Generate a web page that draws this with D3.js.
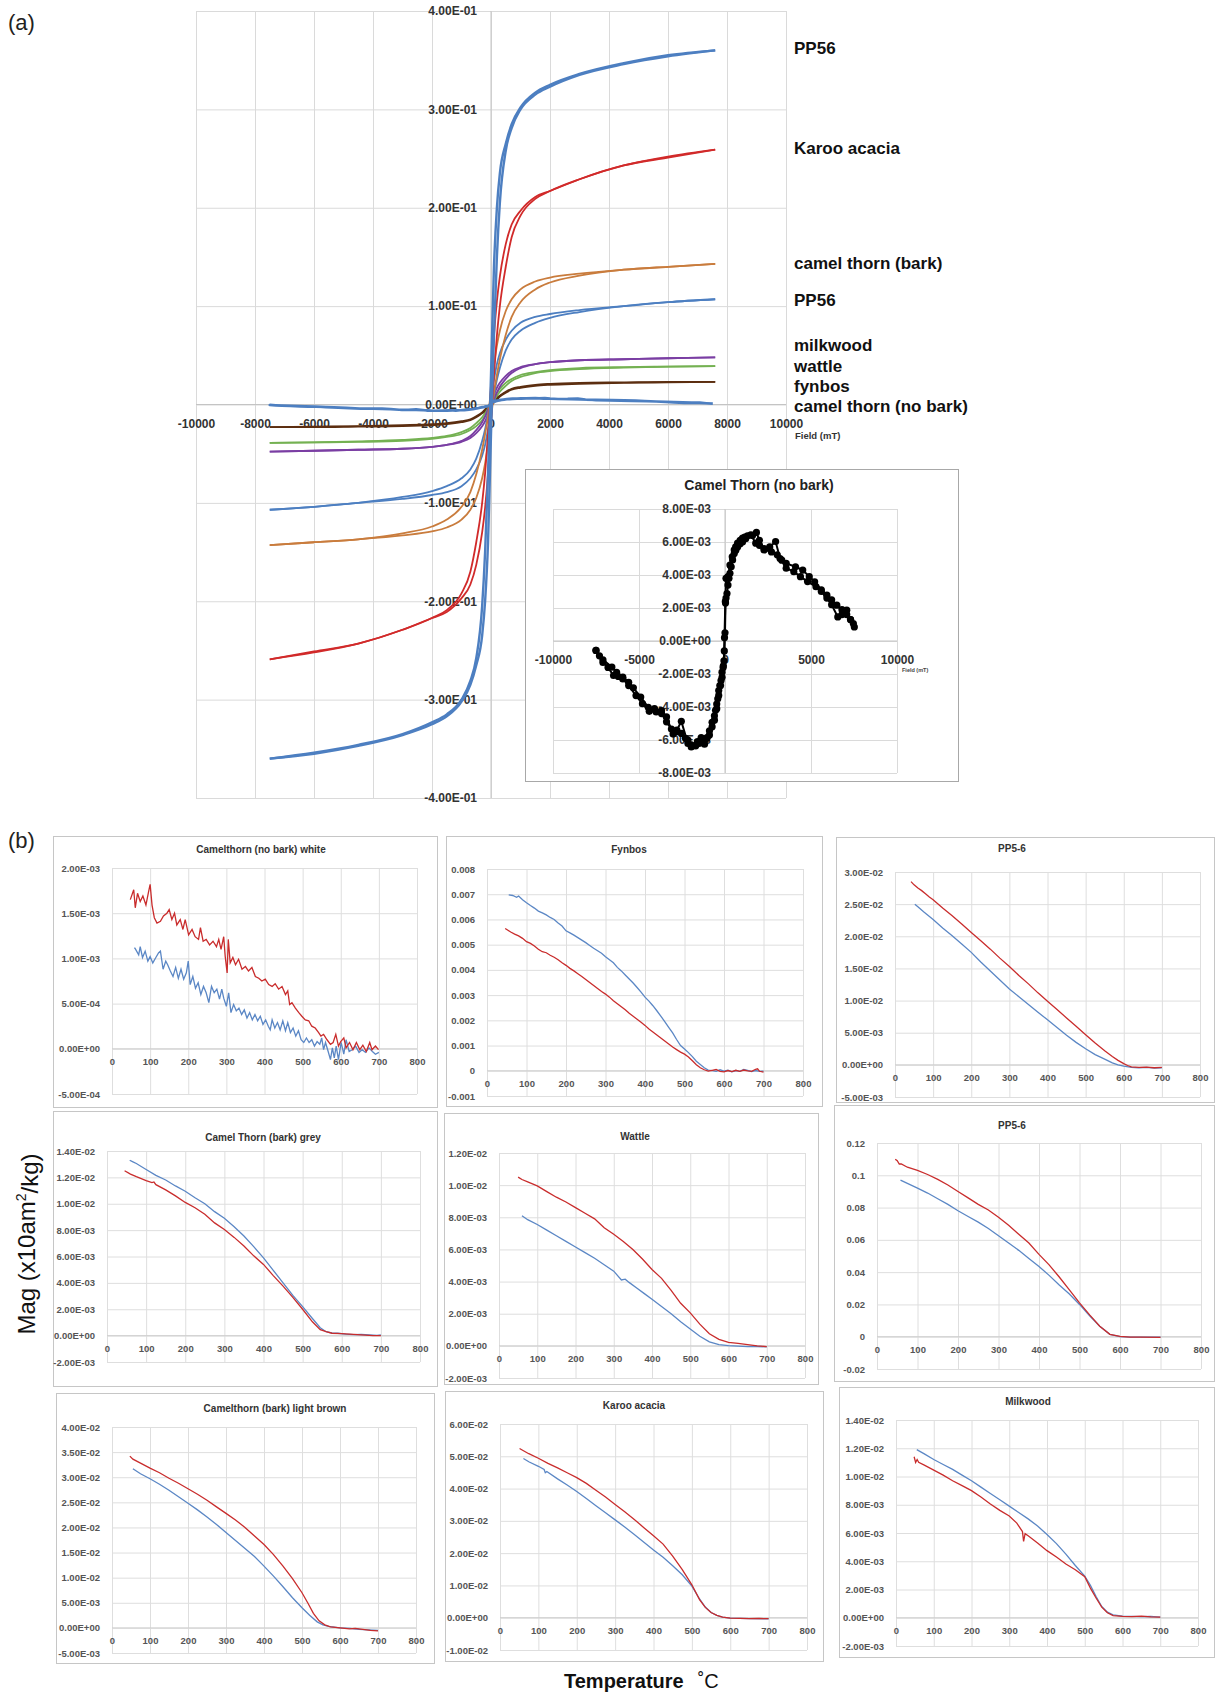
<!DOCTYPE html>
<html><head><meta charset="utf-8">
<script src="https://cdn.jsdelivr.net/npm/d3@7"></script>
<style>
html,body{margin:0;padding:0;background:#fff;}
svg{display:block;font-family:"Liberation Sans",Arial,Helvetica,sans-serif;}
</style></head><body>
<svg id="fig" width="1216" height="1695"></svg>
<script>
// ---------- (a) hysteresis loops: magnetisation vs field ----------
const fieldTicksA = [-10000,-8000,-6000,-4000,-2000,0,2000,4000,6000,8000,10000];
const magTicksA = [-0.4,-0.3,-0.2,-0.1,0,0.1,0.2,0.3,0.4];
const fieldGrid = [-7500,-6000,-4500,-3000,-2000,-1500,-1000,-700,-500,-300,-200,-100,0,100,200,300,500,700,1000,1500,2000,3000,4500,6000,7600];

// descending-field branch (upper) and ascending-field branch (lower), one value per fieldGrid entry
const pp56BigDesc = [-0.360,-0.354,-0.346,-0.335,-0.323,-0.315,-0.300,-0.281,-0.258,-0.205,-0.150,-0.070,0.030,0.140,0.200,0.235,0.265,0.285,0.302,0.317,0.325,0.336,0.347,0.355,0.360];
const pp56BigAsc  = [-0.360,-0.355,-0.347,-0.336,-0.325,-0.317,-0.302,-0.285,-0.265,-0.235,-0.200,-0.140,-0.030,0.070,0.150,0.205,0.258,0.281,0.300,0.315,0.323,0.335,0.346,0.354,0.360];
const karooDesc = [-0.259,-0.251,-0.243,-0.229,-0.217,-0.209,-0.192,-0.170,-0.140,-0.100,-0.070,-0.030,0.020,0.070,0.105,0.130,0.163,0.183,0.197,0.211,0.217,0.229,0.243,0.252,0.259];
const karooAsc  = [-0.259,-0.252,-0.243,-0.229,-0.217,-0.211,-0.197,-0.183,-0.163,-0.130,-0.105,-0.070,-0.020,0.030,0.070,0.100,0.140,0.170,0.192,0.209,0.217,0.229,0.243,0.251,0.259];
const camelBarkDesc = [-0.143,-0.140,-0.137,-0.131,-0.124,-0.117,-0.104,-0.089,-0.071,-0.046,-0.030,-0.012,0.015,0.040,0.060,0.075,0.095,0.107,0.117,0.125,0.129,0.133,0.137,0.140,0.143];
const camelBarkAsc  = [-0.143,-0.140,-0.137,-0.133,-0.129,-0.125,-0.117,-0.107,-0.095,-0.075,-0.060,-0.040,-0.015,0.012,0.030,0.046,0.071,0.089,0.104,0.117,0.124,0.131,0.137,0.140,0.143];
const pp56SmallDesc = [-0.107,-0.104,-0.100,-0.094,-0.088,-0.083,-0.075,-0.066,-0.055,-0.037,-0.025,-0.010,0.008,0.025,0.041,0.052,0.066,0.075,0.083,0.089,0.092,0.096,0.100,0.104,0.107];
const pp56SmallAsc  = [-0.107,-0.104,-0.100,-0.096,-0.092,-0.089,-0.083,-0.075,-0.066,-0.052,-0.041,-0.025,-0.008,0.010,0.025,0.037,0.055,0.066,0.075,0.083,0.088,0.094,0.100,0.104,0.107];
const milkwoodDesc = [-0.048,-0.047,-0.046,-0.045,-0.043,-0.041,-0.037,-0.032,-0.026,-0.018,-0.012,-0.005,0.003,0.010,0.017,0.022,0.029,0.034,0.038,0.041,0.043,0.045,0.046,0.047,0.048];
const milkwoodAsc  = [-0.048,-0.047,-0.046,-0.045,-0.043,-0.041,-0.038,-0.034,-0.029,-0.022,-0.017,-0.010,-0.003,0.005,0.012,0.018,0.026,0.032,0.037,0.041,0.043,0.045,0.046,0.047,0.048];
const wattleDesc = [-0.039,-0.0385,-0.0375,-0.036,-0.034,-0.032,-0.028,-0.024,-0.019,-0.013,-0.009,-0.004,0.002,0.007,0.012,0.016,0.022,0.026,0.030,0.033,0.035,0.037,0.038,0.0385,0.039];
const wattleAsc  = [-0.039,-0.0385,-0.038,-0.037,-0.035,-0.033,-0.030,-0.026,-0.022,-0.016,-0.012,-0.007,-0.002,0.004,0.009,0.013,0.019,0.024,0.028,0.032,0.034,0.036,0.0375,0.0385,0.039];
const fynbosDesc = [-0.023,-0.0225,-0.022,-0.021,-0.020,-0.019,-0.017,-0.015,-0.012,-0.008,-0.005,-0.002,0.001,0.004,0.007,0.009,0.013,0.016,0.018,0.020,0.021,0.022,0.0225,0.023,0.023];
const fynbosAsc  = [-0.023,-0.023,-0.0225,-0.022,-0.021,-0.020,-0.018,-0.016,-0.013,-0.009,-0.007,-0.004,-0.001,0.002,0.005,0.008,0.012,0.015,0.017,0.019,0.020,0.021,0.022,0.0225,0.023];

// camel thorn (no bark): measured points [field mT, magnetisation x1e-3]
const noBarkDesc = [[7519,0.85],[7300,1.3],[7077,1.87],[6800,1.9],[6500,2.17],[6200,2.5],[5923,2.78],[5600,3.1],[5212,3.59],[4900,3.9],[4519,4.30],[4100,4.5],[3558,4.7],[3200,5.0],[2942,6.03],[2600,5.7],[2269,5.6],[2000,6.1],[1827,6.58],[1600,6.4],[1308,6.38],[1150,6.3],[1019,6.23],[880,6.1],[731,5.93],[620,5.7],[538,5.52],[420,5.1],[288,4.6],[173,3.9],[58,3.80],[20,2.4],[-30,0.2],[-60,-1.2],[-110,-1.6],[-173,-1.89],[-231,-2.4],[-300,-2.7],[-365,-3.0],[-420,-3.5],[-481,-3.82],[-550,-4.2],[-615,-4.53],[-750,-4.93],[-904,-5.44],[-1050,-5.9],[-1192,-6.25],[-1385,-5.85],[-1600,-6.1],[-1962,-6.42],[-2154,-6.21],[-2538,-4.87],[-2800,-5.4],[-3019,-5.64],[-3400,-4.6],[-3692,-4.22],[-4100,-4.1],[-4461,-4.02],[-4900,-3.4],[-5327,-2.84],[-5600,-2.5],[-5942,-2.19],[-6300,-1.9],[-6577,-1.58],[-7096,-1.14],[-7500,-0.57]];
const noBarkAsc = [[-7500,-0.57],[-7300,-0.9],[-7096,-1.3],[-6800,-1.6],[-6480,-2.09],[-6200,-2.15],[-5942,-2.3],[-5600,-2.7],[-5173,-3.31],[-4800,-3.8],[-4404,-4.26],[-4000,-4.3],[-3692,-4.4],[-3400,-4.9],[-3115,-5.34],[-2800,-5.5],[-2538,-5.6],[-2300,-5.9],[-2154,-6.0],[-1962,-6.3],[-1700,-6.35],[-1500,-6.2],[-1300,-6.1],[-1192,-6.0],[-1050,-5.85],[-904,-5.7],[-750,-5.2],[-615,-4.8],[-480,-4.1],[-365,-3.3],[-260,-2.7],[-173,-2.2],[-96,-1.5],[-40,-0.6],[0,0.5],[30,2.3],[60,2.6],[115,2.88],[173,3.39],[230,3.8],[288,4.10],[360,4.5],[442,4.91],[538,5.3],[630,5.5],[731,5.7],[880,5.9],[1019,6.0],[1200,6.2],[1500,6.44],[1788,5.93],[2000,5.8],[2269,5.52],[2700,5.4],[3038,5.22],[3300,4.9],[3558,4.41],[4000,4.2],[4385,3.90],[4800,3.6],[5288,3.29],[5600,3.0],[5923,2.6],[6200,2.2],[6558,1.46],[6800,1.6],[7077,1.6],[7300,1.3],[7462,1.06]];
const noBarkUnit = 1e-3;
const insetFieldTicks = [-10000,-5000,0,5000,10000];
const insetMagTicks = [-0.008,-0.006,-0.004,-0.002,0,0.002,0.004,0.006,0.008];

const loopNames = ["PP56","Karoo acacia","camel thorn (bark)","PP56","milkwood","wattle","fynbos","camel thorn (no bark)"];

// ---------- (b) thermomagnetic curves: [temperature °C, magnetisation in panel unit] ----------
const tempTicks = [0,100,200,300,400,500,600,700,800];

const camelWhiteRed = [[48,1.65],[57,1.76],[61,1.56],[67,1.72],[74,1.63],[81,1.69],[89,1.59],[96,1.74],[100,1.82],[105,1.59],[111,1.45],[118,1.39],[127,1.41],[135,1.47],[144,1.50],[150,1.54],[157,1.43],[164,1.50],[170,1.37],[179,1.43],[186,1.32],[192,1.43],[201,1.26],[210,1.32],[218,1.24],[227,1.21],[232,1.34],[239,1.19],[247,1.21],[256,1.15],[265,1.19],[274,1.13],[280,1.21],[286,1.10],[293,1.24],[297,1.02],[302,0.84],[305,1.21],[310,0.95],[317,1.01],[324,0.93],[332,0.99],[341,0.88],[350,0.91],[358,0.86],[367,0.90],[376,0.80],[385,0.78],[393,0.75],[402,0.77],[411,0.71],[420,0.69],[428,0.72],[437,0.66],[446,0.69],[455,0.60],[461,0.64],[466,0.49],[472,0.51],[481,0.45],[490,0.40],[498,0.36],[507,0.32],[516,0.31],[524,0.25],[533,0.23],[542,0.18],[548,0.14],[555,0.16],[564,0.10],[573,0.05],[580,0.07],[587,0.16],[594,0.03],[600,0.08],[608,0.12],[614,0.01],[623,0.07],[632,-0.01],[641,0.07],[650,-0.01],[658,0.04],[667,-0.03],[676,0.07],[682,-0.01],[691,0.03],[699,-0.01]];
const camelWhiteBlue = [[59,1.12],[62,1.10],[70,1.04],[74,1.13],[80,1.01],[87,1.08],[94,0.97],[100,1.02],[107,0.95],[115,1.01],[122,1.06],[127,1.08],[134,0.88],[141,0.97],[146,0.93],[153,0.86],[160,0.80],[167,0.90],[174,0.78],[181,0.88],[188,0.77],[195,0.84],[200,0.97],[205,0.71],[212,0.80],[219,0.67],[226,0.73],[233,0.60],[240,0.69],[247,0.62],[254,0.51],[261,0.69],[268,0.62],[275,0.66],[282,0.55],[288,0.66],[293,0.56],[300,0.47],[306,0.62],[312,0.40],[319,0.49],[326,0.42],[333,0.45],[340,0.38],[347,0.43],[354,0.34],[361,0.40],[368,0.32],[375,0.38],[382,0.31],[389,0.36],[396,0.27],[403,0.32],[410,0.25],[415,0.21],[420,0.32],[427,0.23],[434,0.29],[441,0.21],[448,0.31],[455,0.20],[461,0.29],[468,0.18],[475,0.23],[482,0.14],[489,0.20],[496,0.10],[503,0.07],[510,0.12],[517,0.07],[524,0.10],[531,0.03],[538,0.08],[545,0.05],[550,0.12],[555,-0.01],[560,0.07],[567,-0.03],[573,-0.12],[578,0.01],[583,-0.10],[588,0.03],[594,-0.12],[601,0.07],[608,-0.06],[614,0.10],[622,-0.03],[630,-0.01],[639,0.03],[648,-0.04],[656,-0.01],[665,-0.04],[674,0.01],[683,-0.03],[691,-0.06],[700,-0.04]];

const fynbosBlue = [[55,6.97],[65,6.95],[75,6.88],[80,6.93],[90,6.78],[100,6.66],[110,6.55],[120,6.45],[130,6.33],[140,6.26],[150,6.18],[160,6.08],[170,6.00],[180,5.86],[190,5.74],[200,5.55],[210,5.47],[220,5.38],[230,5.28],[240,5.18],[250,5.08],[260,4.97],[270,4.86],[280,4.76],[290,4.66],[300,4.52],[310,4.40],[320,4.28],[330,4.10],[340,3.96],[350,3.80],[360,3.64],[370,3.48],[380,3.30],[390,3.12],[400,2.92],[410,2.76],[420,2.58],[430,2.38],[440,2.17],[450,1.95],[460,1.72],[470,1.50],[480,1.24],[490,1.00],[500,0.86],[510,0.72],[520,0.56],[530,0.38],[540,0.25],[550,0.12],[560,0.03],[570,0.01],[580,-0.02],[590,0.04],[600,-0.01],[610,0.02],[620,-0.04],[630,0.01],[640,-0.02],[650,0.05],[660,0.02],[670,-0.03],[680,0.01],[690,-0.02],[700,-0.01]];
const fynbosRed = [[46,5.64],[55,5.55],[60,5.50],[70,5.42],[80,5.35],[90,5.25],[100,5.12],[110,5.05],[120,4.95],[130,4.82],[140,4.72],[150,4.68],[160,4.58],[170,4.50],[180,4.40],[190,4.28],[200,4.18],[210,4.06],[220,3.96],[230,3.85],[240,3.74],[250,3.62],[260,3.50],[270,3.38],[280,3.26],[290,3.14],[300,3.04],[310,2.92],[320,2.78],[330,2.66],[340,2.54],[350,2.42],[360,2.28],[370,2.16],[380,2.04],[390,1.92],[400,1.80],[410,1.66],[420,1.54],[430,1.42],[440,1.30],[450,1.18],[460,1.06],[470,0.94],[480,0.84],[490,0.74],[500,0.66],[510,0.55],[520,0.40],[530,0.24],[540,0.12],[550,0.04],[560,-0.01],[570,0.02],[580,0.05],[590,-0.02],[600,-0.04],[610,0.01],[620,-0.03],[630,0.02],[640,-0.02],[650,0.03],[660,0.00],[670,-0.02],[680,0.06],[685,0.08],[690,-0.02],[700,-0.05]];

const pp56aRed = [[42,28.5],[50,28.0],[60,27.5],[70,27.1],[80,26.6],[90,26.1],[100,25.7],[125,24.4],[150,23.2],[175,21.9],[200,20.6],[225,19.3],[250,18.0],[275,16.6],[300,15.3],[325,13.9],[350,12.6],[375,11.2],[400,9.9],[425,8.6],[450,7.3],[475,6.0],[500,4.7],[525,3.4],[550,2.2],[570,1.3],[585,0.7],[600,0.2],[610,-0.1],[620,-0.3],[640,-0.4],[660,-0.35],[680,-0.45],[700,-0.4]];
const pp56aBlue = [[52,25.0],[60,24.6],[75,23.8],[100,22.6],[125,21.3],[150,20.1],[175,18.8],[200,17.5],[225,16.0],[250,14.6],[275,13.2],[300,11.8],[325,10.6],[350,9.4],[375,8.2],[400,7.0],[425,5.8],[450,4.6],[475,3.5],[500,2.5],[525,1.6],[550,0.9],[570,0.3],[585,0.0],[600,-0.2],[620,-0.4],[640,-0.45],[660,-0.4],[680,-0.5],[700,-0.45]];

const camelGreyBlue = [[58,13.3],[65,13.2],[75,13.05],[100,12.6],[125,12.15],[150,11.8],[175,11.35],[200,10.95],[225,10.45],[250,10.0],[275,9.4],[300,8.9],[325,8.25],[350,7.55],[375,6.75],[400,5.9],[425,4.95],[450,4.0],[475,3.05],[500,2.2],[525,1.3],[545,0.6],[560,0.3],[575,0.2],[590,0.18],[610,0.12],[630,0.08],[650,0.1],[670,0.06],[690,0.02],[700,0.05]];
const camelGreyRed = [[45,12.5],[60,12.25],[75,12.05],[100,11.75],[115,11.6],[120,11.65],[125,11.45],[150,11.05],[175,10.6],[200,10.1],[225,9.7],[250,9.2],[275,8.55],[300,8.05],[325,7.45],[350,6.8],[375,6.05],[400,5.4],[425,4.55],[450,3.75],[475,2.9],[500,2.0],[525,1.05],[545,0.45],[560,0.3],[575,0.18],[600,0.15],[620,0.12],[650,0.06],[680,0.0],[700,0.0]];

const wattleRed = [[50,10.5],[60,10.35],[75,10.2],[100,9.95],[125,9.6],[150,9.25],[175,8.95],[200,8.6],[225,8.25],[250,7.9],[275,7.35],[300,6.95],[325,6.5],[350,6.0],[375,5.4],[400,4.75],[425,4.2],[450,3.45],[475,2.65],[500,2.05],[525,1.35],[550,0.75],[575,0.4],[600,0.22],[625,0.15],[650,0.08],[675,0.0],[700,-0.05]];
const wattleBlue = [[60,8.1],[75,7.85],[100,7.55],[125,7.2],[150,6.85],[175,6.5],[200,6.15],[225,5.8],[250,5.45],[275,5.05],[300,4.65],[320,4.1],[330,4.15],[340,3.95],[360,3.6],[380,3.25],[400,2.9],[425,2.45],[450,2.0],[475,1.5],[500,1.05],[525,0.6],[550,0.25],[575,0.08],[600,0.02],[625,-0.02],[650,-0.05],[675,-0.04],[700,-0.06]];

const pp56bRed = [[45,0.110],[50,0.109],[55,0.107],[60,0.107],[75,0.105],[100,0.103],[125,0.1005],[150,0.0975],[175,0.094],[200,0.090],[225,0.086],[250,0.082],[275,0.0785],[300,0.074],[325,0.069],[350,0.0635],[375,0.058],[400,0.051],[425,0.0445],[450,0.037],[475,0.029],[500,0.021],[525,0.0135],[550,0.0065],[575,0.0015],[600,0.0002],[625,-0.0002],[650,-0.0003],[700,-0.0004]];
const pp56bBlue = [[58,0.097],[75,0.095],[100,0.092],[125,0.089],[150,0.0855],[175,0.082],[200,0.078],[225,0.0745],[250,0.071],[275,0.067],[300,0.0625],[325,0.058],[350,0.0535],[375,0.0485],[400,0.0435],[425,0.038],[450,0.032],[475,0.0265],[500,0.020],[525,0.013],[550,0.0065],[575,0.0015],[600,0.0001],[625,-0.0002],[650,-0.0003],[700,-0.0003]];

const camelBrownRed = [[47,34.2],[55,33.6],[75,32.8],[100,31.8],[125,30.9],[150,29.8],[175,28.8],[200,27.7],[225,26.6],[250,25.4],[275,24.1],[300,22.8],[325,21.5],[350,20.0],[375,18.3],[400,16.6],[425,14.6],[450,12.3],[475,9.8],[500,7.0],[515,5.0],[530,2.9],[545,1.4],[560,0.6],[575,0.2],[600,0.0],[625,-0.2],[640,-0.1],[660,-0.3],[680,-0.5],[700,-0.6]];
const camelBrownBlue = [[55,31.7],[75,30.7],[100,29.7],[125,28.6],[150,27.4],[175,26.1],[200,24.8],[225,23.5],[250,22.1],[275,20.6],[300,19.0],[325,17.4],[350,15.8],[375,14.2],[400,12.3],[425,10.3],[450,8.2],[475,6.0],[500,4.0],[520,2.5],[540,1.2],[555,0.6],[570,0.3],[600,0.0],[625,-0.1],[650,-0.3],[675,-0.4],[700,-0.5]];

const karooRed = [[51,52.4],[60,51.8],[75,50.8],[100,49.4],[125,47.8],[150,46.4],[175,44.9],[200,43.4],[225,41.6],[250,39.5],[275,37.4],[300,35.1],[325,32.8],[350,30.4],[375,27.9],[400,25.4],[425,22.8],[450,19.1],[475,14.9],[500,10.2],[520,5.6],[535,3.2],[550,1.6],[565,0.7],[580,0.2],[600,-0.1],[625,-0.2],[650,-0.3],[675,-0.25],[700,-0.3]];
const karooBlue = [[61,49.3],[75,48.3],[100,46.9],[115,45.9],[118,44.9],[122,45.3],[150,43.0],[175,41.1],[200,39.1],[225,36.9],[250,34.7],[275,32.5],[300,30.3],[325,28.1],[350,25.8],[375,23.4],[400,21.0],[425,18.7],[450,16.1],[475,13.3],[500,9.8],[520,5.8],[535,3.3],[550,1.6],[565,0.7],[580,0.2],[600,-0.1],[625,-0.2],[650,-0.3],[700,-0.35]];

const milkwoodBlue = [[55,11.9],[75,11.6],[100,11.2],[125,10.85],[150,10.5],[175,10.1],[200,9.7],[225,9.25],[250,8.8],[275,8.35],[300,7.9],[325,7.45],[350,7.0],[375,6.5],[400,5.9],[425,5.25],[450,4.5],[475,3.7],[500,2.95],[515,2.3],[530,1.5],[545,0.8],[560,0.4],[575,0.2],[600,0.12],[625,0.1],[650,0.08],[675,0.1],[700,0.05]];
const milkwoodRed = [[48,11.4],[52,11.0],[56,11.2],[60,11.0],[75,10.8],[100,10.45],[125,10.1],[150,9.7],[175,9.35],[200,9.0],[225,8.55],[250,8.05],[275,7.6],[300,7.2],[320,6.7],[335,6.1],[338,5.4],[342,5.95],[350,5.8],[375,5.3],[400,4.75],[425,4.3],[450,3.8],[475,3.4],[500,2.9],[515,2.1],[530,1.4],[545,0.75],[560,0.35],[575,0.15],[600,0.1],[625,0.08],[650,0.12],[675,0.06],[700,0.05]];

const ticksCamelWhite = [-0.0005,0,0.0005,0.001,0.0015,0.002];
const ticksFynbos = [-0.001,0,0.001,0.002,0.003,0.004,0.005,0.006,0.007,0.008];
const ticksPP56a = [-0.005,0,0.005,0.01,0.015,0.02,0.025,0.03];
const ticksCamelGrey = [-0.002,0,0.002,0.004,0.006,0.008,0.01,0.012,0.014];
const ticksWattle = [-0.002,0,0.002,0.004,0.006,0.008,0.01,0.012];
const ticksPP56b = [-0.02,0,0.02,0.04,0.06,0.08,0.1,0.12];
const ticksCamelBrown = [-0.005,0,0.005,0.01,0.015,0.02,0.025,0.03,0.035,0.04];
const ticksKaroo = [-0.01,0,0.01,0.02,0.03,0.04,0.05,0.06];
const ticksMilkwood = [-0.002,0,0.002,0.004,0.006,0.008,0.01,0.012,0.014];

const panelTitles = ["Camelthorn (no bark) white","Fynbos","PP5-6","Camel Thorn (bark) grey","Wattle","PP5-6","Camelthorn (bark) light brown","Karoo acacia","Milkwood"];

// ---------- helpers ----------
function sciFmt(v) {
  if (v === 0) return "0.00E+00";
  const [m, e] = v.toExponential(2).split("e");
  const n = +e;
  return m + "E" + (n < 0 ? "-" : "+") + String(Math.abs(n)).padStart(2, "0");
}
const plainFmt = v => String(v);
const FONT = '"Liberation Sans",Arial,Helvetica,sans-serif';

const svg = d3.select("#fig");
svg.append("rect").attr("width",1216).attr("height",1695).attr("fill","#fff");

function styleAxis(g, size, weight, color) {
  g.select(".domain").remove();
  g.attr("font-family", FONT).attr("font-size", size).attr("font-weight", weight);
  g.selectAll("text").attr("fill", color);
}
function gridAxis(g, color) {
  g.select(".domain").remove();
  g.selectAll("line").attr("stroke", color).attr("stroke-width", 1);
  g.selectAll("text").remove();
}

// ---------- (a) main chart ----------
const xA = d3.scaleLinear([-10000,10000],[196,786]);
const yA = d3.scaleLinear([-0.4,0.4],[798,11]);
const gA = svg.append("g");

gA.append("g").attr("transform",`translate(0,${yA(-0.4)})`)
  .call(d3.axisBottom(xA).tickValues(fieldTicksA).tickSize(-(yA(-0.4)-yA(0.4))).tickFormat(""))
  .call(g => gridAxis(g,"#dadada"));
gA.append("g").attr("transform",`translate(${xA(-10000)},0)`)
  .call(d3.axisLeft(yA).tickValues(magTicksA).tickSize(-(xA(10000)-xA(-10000))).tickFormat(""))
  .call(g => gridAxis(g,"#dadada"));
gA.append("line").attr("x1",xA(0)).attr("x2",xA(0)).attr("y1",yA(0.4)).attr("y2",yA(-0.4)).attr("stroke","#c4c4c4");
gA.append("line").attr("x1",xA(-10000)).attr("x2",xA(10000)).attr("y1",yA(0)).attr("y2",yA(0)).attr("stroke","#c4c4c4");

gA.append("g").attr("transform",`translate(${xA(0)},0)`)
  .call(d3.axisLeft(yA).tickValues(magTicksA).tickSize(0).tickPadding(14).tickFormat(sciFmt))
  .call(g => styleAxis(g,12,"bold","#333"));
gA.append("g").attr("transform",`translate(0,${yA(0)})`)
  .call(d3.axisBottom(xA).tickValues(fieldTicksA).tickSize(0).tickPadding(14.5).tickFormat(d => String(d)))
  .call(g => styleAxis(g,12,"bold","#333"));
gA.append("text").attr("x",795).attr("y",439).attr("font-family",FONT).attr("font-size",9.5)
  .attr("font-weight","bold").attr("fill","#333").text("Field (mT)");

const loopLine = d3.line().x(d => xA(d[0])).y(d => yA(d[1])).curve(d3.curveMonotoneX);
const loops = [
  {desc: fynbosDesc, asc: fynbosAsc, color: "#5c2e10", w: 1.8},
  {desc: wattleDesc, asc: wattleAsc, color: "#74b152", w: 1.8},
  {desc: milkwoodDesc, asc: milkwoodAsc, color: "#7a3ea3", w: 1.8},
  {desc: pp56SmallDesc, asc: pp56SmallAsc, color: "#4d7fc1", w: 1.8},
  {desc: camelBarkDesc, asc: camelBarkAsc, color: "#c97c3d", w: 1.8},
  {desc: karooDesc, asc: karooAsc, color: "#d12a2a", w: 1.8},
  {desc: pp56BigDesc, asc: pp56BigAsc, color: "#4d7fc1", w: 2.4}
];
loops.forEach(s => {
  [s.desc, s.asc].forEach(vals => {
    gA.append("path").datum(fieldGrid.map((h,i) => [h, vals[i]]))
      .attr("d", loopLine).attr("fill","none").attr("stroke", s.color).attr("stroke-width", s.w);
  });
});
const noBarkLine = d3.line().x(d => xA(d[0])).y(d => yA(d[1]*noBarkUnit));
gA.append("path").datum(noBarkDesc.concat(noBarkAsc)).attr("d", noBarkLine)
  .attr("fill","none").attr("stroke","#4d7fc1").attr("stroke-width",2.6).attr("stroke-linejoin","round");

// series labels beside the curve ends
const labelY = [48,148,263,300,345,366,386,406];
gA.selectAll("text.series").data(loopNames).join("text").attr("class","series")
  .attr("x",794).attr("y",(d,i) => labelY[i]).attr("dy","0.35em")
  .attr("font-family",FONT).attr("font-size",17).attr("font-weight","bold").attr("fill","#111")
  .text(d => d);

svg.append("text").attr("x",8).attr("y",30).attr("font-family",FONT).attr("font-size",22).attr("fill","#222").text("(a)");

// ---------- inset: camel thorn (no bark) ----------
const xI = d3.scaleLinear([-10000,10000],[553,897]);
const yI = d3.scaleLinear([-0.008,0.008],[773,509]);
const gI = svg.append("g");
gI.append("rect").attr("x",525.5).attr("y",469.5).attr("width",433).attr("height",312)
  .attr("fill","#fff").attr("stroke","#a8a8a8");
gI.append("g").attr("transform",`translate(0,${yI(-0.008)})`)
  .call(d3.axisBottom(xI).tickValues(insetFieldTicks).tickSize(-(yI(-0.008)-yI(0.008))).tickFormat(""))
  .call(g => gridAxis(g,"#dadada"));
gI.append("g").attr("transform",`translate(${xI(-10000)},0)`)
  .call(d3.axisLeft(yI).tickValues(insetMagTicks).tickSize(-(xI(10000)-xI(-10000))).tickFormat(""))
  .call(g => gridAxis(g,"#dadada"));
gI.append("line").attr("x1",xI(0)).attr("x2",xI(0)).attr("y1",yI(0.008)).attr("y2",yI(-0.008)).attr("stroke","#c4c4c4");
gI.append("line").attr("x1",xI(-10000)).attr("x2",xI(10000)).attr("y1",yI(0)).attr("y2",yI(0)).attr("stroke","#c4c4c4");
gI.append("g").attr("transform",`translate(${xI(0)},0)`)
  .call(d3.axisLeft(yI).tickValues(insetMagTicks).tickSize(0).tickPadding(14).tickFormat(sciFmt))
  .call(g => styleAxis(g,12,"bold","#333"));
gI.append("g").attr("transform",`translate(0,${yI(0)})`)
  .call(d3.axisBottom(xI).tickValues(insetFieldTicks).tickSize(0).tickPadding(14.5).tickFormat(d => String(d)))
  .call(g => styleAxis(g,12,"bold","#333"));
gI.append("text").attr("x",902).attr("y",672).attr("font-family",FONT).attr("font-size",5.5)
  .attr("font-weight","bold").attr("fill","#444").text("Field (mT)");
gI.append("text").attr("x",759).attr("y",490).attr("text-anchor","middle").attr("font-family",FONT)
  .attr("font-size",14).attr("font-weight","bold").attr("fill","#222").text("Camel Thorn (no bark)");
const insetLine = d3.line().x(d => xI(d[0])).y(d => yI(d[1]*noBarkUnit));
[noBarkDesc, noBarkAsc].forEach(br => {
  gI.append("path").datum(br).attr("d", insetLine).attr("fill","none").attr("stroke","#000").attr("stroke-width",2);
});
gI.selectAll("circle").data(noBarkDesc.concat(noBarkAsc)).join("circle")
  .attr("cx", d => xI(d[0])).attr("cy", d => yI(d[1]*noBarkUnit)).attr("r",3.6).attr("fill","#000");

// ---------- (b) panels ----------
const panelSeries = [
  {red: camelWhiteRed, blue: camelWhiteBlue, unit: 1e-3, ticks: ticksCamelWhite, fmt: sciFmt},
  {red: fynbosRed, blue: fynbosBlue, unit: 1e-3, ticks: ticksFynbos, fmt: plainFmt},
  {red: pp56aRed, blue: pp56aBlue, unit: 1e-3, ticks: ticksPP56a, fmt: sciFmt},
  {red: camelGreyRed, blue: camelGreyBlue, unit: 1e-3, ticks: ticksCamelGrey, fmt: sciFmt},
  {red: wattleRed, blue: wattleBlue, unit: 1e-3, ticks: ticksWattle, fmt: sciFmt},
  {red: pp56bRed, blue: pp56bBlue, unit: 1, ticks: ticksPP56b, fmt: plainFmt},
  {red: camelBrownRed, blue: camelBrownBlue, unit: 1e-3, ticks: ticksCamelBrown, fmt: sciFmt},
  {red: karooRed, blue: karooBlue, unit: 1e-3, ticks: ticksKaroo, fmt: sciFmt},
  {red: milkwoodRed, blue: milkwoodBlue, unit: 1e-3, ticks: ticksMilkwood, fmt: sciFmt}
];
// frame [x0,y0,x1,y1], plot x range, plot y range (top, bottom), title centre
const panelLayout = [
  {box:[53,836,437,1107], px:[112,417], py:[868,1094], t:[261,849]},
  {box:[446,836,822,1106], px:[487,803], py:[869,1096], t:[629,849]},
  {box:[836,837,1214,1102], px:[895,1200], py:[872,1097], t:[1012,848]},
  {box:[53,1111,437,1386], px:[107,420], py:[1151,1362], t:[263,1137]},
  {box:[444,1113,818,1384], px:[499,805], py:[1153,1378], t:[635,1136]},
  {box:[834,1105,1214,1381], px:[877,1201], py:[1143,1369], t:[1012,1125]},
  {box:[56,1393,434,1663], px:[112,416], py:[1427,1653], t:[275,1408]},
  {box:[445,1391,823,1661], px:[500,807], py:[1424,1650], t:[634,1405]},
  {box:[839,1387,1214,1657], px:[896,1198], py:[1420,1646], t:[1028,1401]}
];

panelSeries.forEach((s, i) => {
  const L = panelLayout[i];
  const g = svg.append("g");
  g.append("rect").attr("x",L.box[0]+0.5).attr("y",L.box[1]+0.5)
    .attr("width",L.box[2]-L.box[0]).attr("height",L.box[3]-L.box[1])
    .attr("fill","#fff").attr("stroke","#c6c6c6");
  const x = d3.scaleLinear([0,800], L.px);
  const y = d3.scaleLinear([s.ticks[0], s.ticks[s.ticks.length-1]], [L.py[1], L.py[0]]);
  g.append("g").attr("transform",`translate(0,${L.py[1]})`)
    .call(d3.axisBottom(x).tickValues(tempTicks).tickSize(-(L.py[1]-L.py[0])).tickFormat(""))
    .call(a => gridAxis(a,"#dedede"));
  g.append("g").attr("transform",`translate(${L.px[0]},0)`)
    .call(d3.axisLeft(y).tickValues(s.ticks).tickSize(-(L.px[1]-L.px[0])).tickFormat(""))
    .call(a => gridAxis(a,"#dedede"));
  g.append("line").attr("x1",L.px[0]).attr("x2",L.px[1]).attr("y1",y(0)).attr("y2",y(0)).attr("stroke","#cfcfcf");
  g.append("g").attr("transform",`translate(${L.px[0]},0)`)
    .call(d3.axisLeft(y).tickValues(s.ticks).tickSize(0).tickPadding(12).tickFormat(s.fmt))
    .call(a => styleAxis(a,9.5,"bold","#555"));
  g.append("g").attr("transform",`translate(0,${y(0)})`)
    .call(d3.axisBottom(x).tickValues(tempTicks).tickSize(0).tickPadding(9.5).tickFormat(d => String(d)))
    .call(a => styleAxis(a,9.5,"bold","#555"));
  g.append("text").attr("x",L.t[0]).attr("y",L.t[1]).attr("dy","0.35em").attr("text-anchor","middle")
    .attr("font-family",FONT).attr("font-size",10).attr("font-weight","bold").attr("fill","#333")
    .text(panelTitles[i]);
  const ln = d3.line().x(d => x(d[0])).y(d => y(d[1]*s.unit));
  g.append("path").datum(s.blue).attr("d",ln).attr("fill","none").attr("stroke","#5b87c5").attr("stroke-width",1.3);
  g.append("path").datum(s.red).attr("d",ln).attr("fill","none").attr("stroke","#c92c2c").attr("stroke-width",1.3);
});

svg.append("text").attr("x",8).attr("y",848).attr("font-family",FONT).attr("font-size",22).attr("fill","#222").text("(b)");

// shared axis titles for (b)
const magTitle = svg.append("text").attr("transform","translate(27,1244) rotate(-90)")
  .attr("text-anchor","middle").attr("dy","0.35em").attr("font-family",FONT).attr("font-size",24).attr("fill","#111");
magTitle.append("tspan").text("Mag (x10am");
magTitle.append("tspan").attr("font-size",14).attr("dy","-0.7em").text("2");
magTitle.append("tspan").attr("dy","0.5em").text("/kg)");

const tempTitle = svg.append("text").attr("x",564).attr("y",1688).attr("font-family",FONT)
  .attr("font-size",20).attr("font-weight","bold").attr("fill","#111");
tempTitle.append("tspan").text("Temperature");
tempTitle.append("tspan").attr("dx",14).attr("font-weight","normal").text("˚C");
</script></body></html>
